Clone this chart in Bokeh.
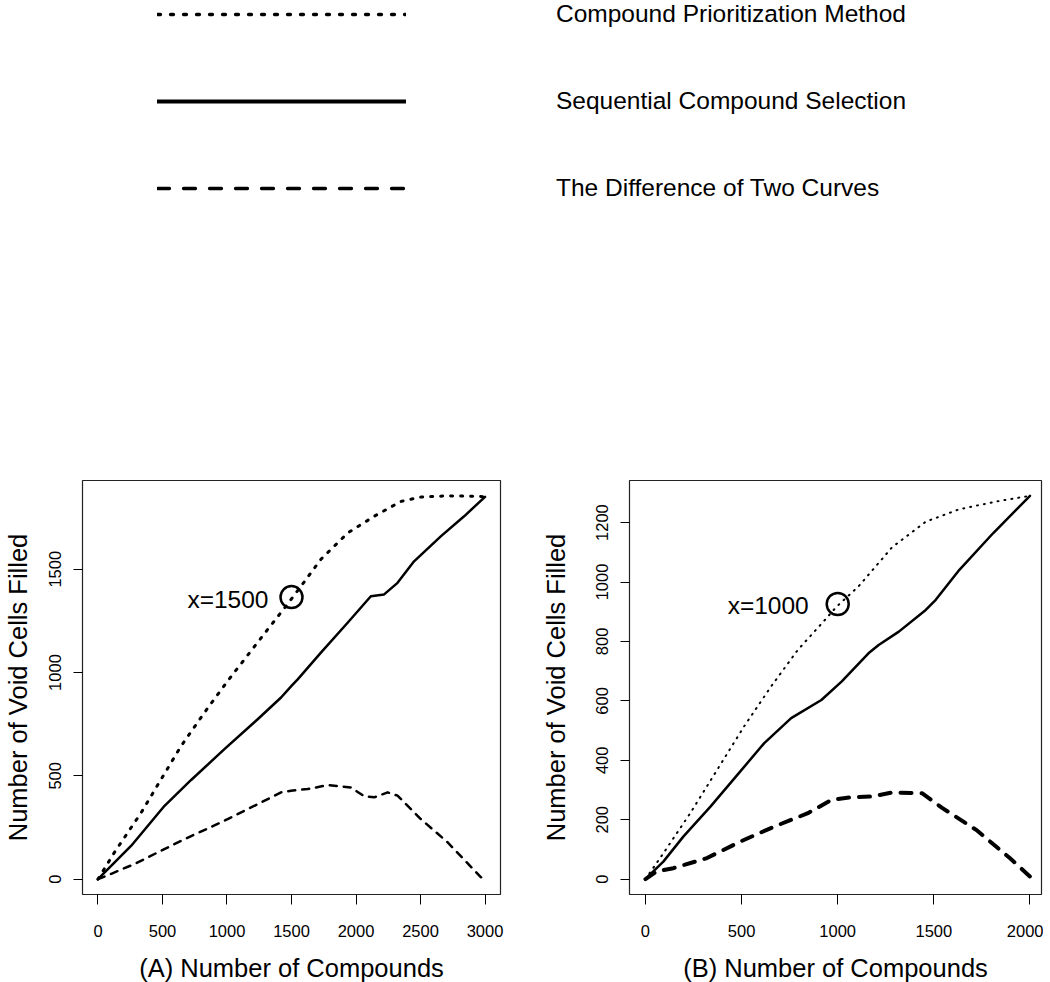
from bokeh.plotting import figure
from bokeh.models import Range1d, FixedTicker, Legend, LegendItem
from bokeh.layouts import column, row
from bokeh.embed import file_html
from bokeh.resources import INLINE
from bokeh.core.properties import value

FONT = "Liberation Sans"
NAN = float("nan")

SERIES_LABELS = [
    "Compound Prioritization Method",
    "Sequential Compound Selection",
    "The Difference of Two Curves",
]

# ---------------- Panel A data ----------------
cpm_a_x = [0, 128, 335, 490, 645, 825, 1006, 1187, 1316, 1457, 1574, 1728, 1935, 2141, 2348, 2502, 2709, 2967, 3000]
cpm_a_y = [0, 130, 322, 484, 645, 806, 960, 1105, 1209, 1321, 1418, 1548, 1675, 1756, 1828, 1849, 1855, 1852, 1850]

scs_a_x = [0, 258, 516, 722, 980, 1238, 1419, 1500, 1548, 1728, 1935, 2115, 2218, 2322, 2450, 2657, 2838, 3000]
scs_a_y = [0, 162, 355, 480, 629, 774, 879, 935, 967, 1096, 1241, 1369, 1378, 1434, 1538, 1659, 1756, 1850]

dif_a_x = [0, 103, 296, 387, 645, 954, 1161, 1419, 1496, 1625, 1780, 1960, 2064, 2141, 2245, 2322, 2502, 2709, 2967, 3000]
dif_a_y = [0, 26, 77, 106, 186, 275, 339, 420, 428, 436, 455, 444, 401, 396, 420, 404, 291, 179, 10, 0]

mark_a_x = [1500]
mark_a_y = [1365]

xticks_a = [0, 500, 1000, 1500, 2000, 2500, 3000]
yticks_a = [0, 500, 1000, 1500]
xlim_a = (-120, 3120)

# ---------------- Panel B data ----------------
cpm_b_x = [0, 93, 233, 373, 513, 653, 793, 933, 994, 1108, 1283, 1458, 1633, 1843, 2000]
cpm_b_y = [0, 87, 222, 368, 514, 648, 772, 872, 917, 985, 1117, 1203, 1245, 1273, 1290]

scs_b_x = [0, 58, 93, 198, 338, 478, 618, 758, 915, 1020, 1160, 1213, 1318, 1458, 1510, 1633, 1808, 2000]
scs_b_y = [0, 37, 59, 144, 244, 351, 458, 542, 603, 665, 760, 788, 833, 906, 940, 1041, 1164, 1290]

dif_b_x = [0, 58, 145, 320, 495, 670, 845, 968, 1073, 1178, 1283, 1440, 1545, 1720, 1895, 2000]
dif_b_y = [0, 26, 37, 71, 127, 177, 222, 267, 276, 278, 292, 289, 239, 166, 71, 9]

mark_b_x = [1000]
mark_b_y = [926]

xticks_b = [0, 500, 1000, 1500, 2000]
yticks_b = [0, 200, 400, 600, 800, 1000, 1200]
xlim_b = (-83, 2060)

X_TITLES = ["(A) Number of Compounds", "(B) Number of Compounds"]
Y_TITLE = "Number of Void Cells Filled"


def style_axes(p, xticks, yticks, xtitle, ylabel_standoff):
    p.grid.visible = False
    p.outline_line_color = "#222222"
    p.outline_line_width = 1.2
    p.background_fill_color = "white"
    p.border_fill_color = "white"
    for ax in (p.xaxis[0], p.yaxis[0]):
        ax.axis_line_color = None
        ax.major_tick_in = 0
        ax.minor_tick_line_color = None
        ax.major_tick_line_color = "black"
        ax.major_tick_line_width = 1
        ax.major_label_text_font = FONT
        ax.major_label_text_font_size = "16.5px"
        ax.major_label_text_color = "black"
        ax.axis_label_text_font = FONT
        ax.axis_label_text_font_size = "25.5px"
        ax.axis_label_text_font_style = "normal"
        ax.axis_label_text_color = "black"
    p.xaxis[0].ticker = FixedTicker(ticks=xticks)
    p.yaxis[0].ticker = FixedTicker(ticks=yticks)
    p.xaxis[0].axis_label = xtitle
    p.yaxis[0].axis_label = Y_TITLE
    p.xaxis[0].major_tick_out = 10
    p.xaxis[0].major_label_standoff = 20
    p.xaxis[0].axis_label_standoff = 14
    p.yaxis[0].major_tick_out = 9
    p.yaxis[0].major_label_standoff = 12
    p.yaxis[0].major_label_orientation = "vertical"
    p.yaxis[0].axis_label_standoff = ylabel_standoff


def make_panel(cpm, scs, dif, mark, xticks, yticks, xlim, xtitle,
               frame_w, left, right, ylabel_standoff, styles, text_dx):
    ymax = max(max(cpm[1]), max(scs[1]))
    ylim = (-0.04 * ymax, 1.04 * ymax)
    p = figure(frame_width=frame_w, frame_height=414,
               x_range=Range1d(*xlim), y_range=Range1d(*ylim),
               output_backend="svg", toolbar_location=None,
               min_border_left=left, min_border_right=right,
               min_border_top=20, min_border_bottom=88)
    style_axes(p, xticks, yticks, xtitle, ylabel_standoff)
    (w1, d1), (w2,), (w3, d3) = styles
    p.line(cpm[0], cpm[1], line_width=w1, line_dash=d1, line_cap="round",
           line_join="round", line_color="black")
    p.line(scs[0], scs[1], line_width=w2, line_cap="round",
           line_join="round", line_color="black")
    p.line(dif[0], dif[1], line_width=w3, line_dash=d3, line_cap="round",
           line_join="round", line_color="black")
    p.scatter(x=mark[0], y=mark[1], marker="circle", size=22,
              fill_color=None, line_color="black", line_width=2.5)
    p.text(x=mark[0], y=mark[1], text=["x=%d" % v for v in mark[0]],
           text_align="right", text_baseline="middle",
           x_offset=text_dx, y_offset=2,
           text_font=value(FONT), text_font_size="24.5px", text_color="black")
    return p


pA = make_panel((cpm_a_x, cpm_a_y), (scs_a_x, scs_a_y), (dif_a_x, dif_a_y),
                (mark_a_x, mark_a_y), xticks_a, yticks_a, xlim_a, X_TITLES[0],
                418, 81, 15, 15,
                ((3, "2 8"), (2.5,), (2.5, "7 7")), -23)
pB = make_panel((cpm_b_x, cpm_b_y), (scs_b_x, scs_b_y), (dif_b_x, dif_b_y),
                (mark_b_x, mark_b_y), xticks_b, yticks_b, xlim_b, X_TITLES[1],
                412, 114, 2, 24,
                ((2, "1 6"), (2.5,), (4, "11 10")), -29)

# ---------------- Legend figure ----------------
lg = figure(width=1042, height=460, output_backend="svg", toolbar_location=None,
            x_axis_location=None, y_axis_location=None, min_border=0,
            x_range=Range1d(0, 1), y_range=Range1d(0, 1))
lg.grid.visible = False
lg.outline_line_color = None
r1 = lg.line(x=[NAN, NAN], y=[NAN, NAN], line_width=3.3, line_dash="3 10",
             line_cap="round", line_color="black")
r2 = lg.line(x=[NAN, NAN], y=[NAN, NAN], line_width=4, line_cap="round", line_color="black")
r3 = lg.line(x=[NAN, NAN], y=[NAN, NAN], line_width=3.3, line_dash="12 14",
             line_cap="round", line_color="black")
legend = Legend(
    items=[LegendItem(label=SERIES_LABELS[0], renderers=[r1]),
           LegendItem(label=SERIES_LABELS[1], renderers=[r2]),
           LegendItem(label=SERIES_LABELS[2], renderers=[r3])],
    location=(157, 257), orientation="vertical",
    glyph_width=249, glyph_height=30, label_height=30, label_width=10,
    label_standoff=150, spacing=57, padding=0, margin=0,
    border_line_color=None, background_fill_alpha=0,
    label_text_font=FONT, label_text_font_size="24.5px", label_text_color="black",
)
lg.add_layout(legend)

layout = column(lg, row(pA, pB))

with open("out.html", "w") as f:
    f.write(file_html(layout, INLINE))
